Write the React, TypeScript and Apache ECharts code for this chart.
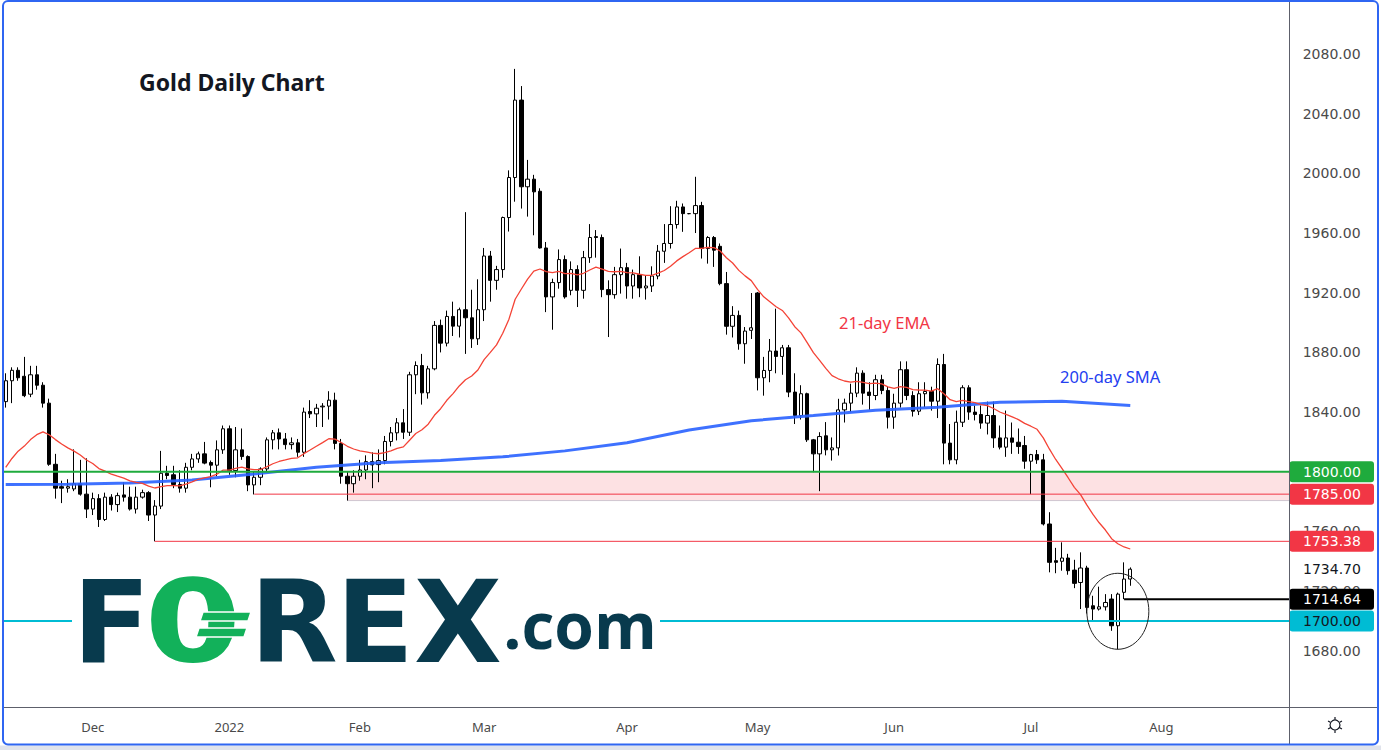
import React, { useEffect, useRef } from "react";
import * as echarts from "echarts";

const W = 1381;
const H = 750;

// Daily XAU/USD candles, [open, high, low, close]
const nov2021 = [
  [1847, 1866, 1843, 1861], [1861, 1870, 1846, 1868], [1868, 1870, 1861, 1863],
  [1864, 1877, 1850, 1851], [1852, 1871, 1850, 1865], [1865, 1871, 1855, 1858],
  [1858, 1860, 1843, 1846], [1846, 1849, 1804, 1805], [1805, 1812, 1782, 1789],
  [1790, 1794, 1779, 1789], [1789, 1795, 1786, 1790], [1788.5, 1815, 1787, 1792],
  [1792, 1808, 1784, 1785], [1785, 1809, 1769, 1775],
];
const dec2021 = [
  [1775, 1786, 1771, 1782], [1782, 1785, 1763, 1768], [1768, 1786, 1767, 1783],
  [1783, 1785, 1774, 1778], [1778, 1786, 1773, 1784], [1784.5, 1793, 1780, 1783],
  [1783, 1790, 1774, 1775], [1775, 1790, 1772, 1783], [1783, 1788, 1782, 1786],
  [1786, 1787, 1767, 1771], [1771, 1781, 1753.38, 1777], [1777, 1814, 1775, 1799],
  [1799, 1804, 1795, 1797.5], [1798, 1804, 1789, 1791.5], [1791.5, 1801, 1786, 1789],
  [1789, 1806, 1786, 1803], [1803, 1812, 1801, 1808.6], [1808.6, 1813.5, 1806, 1812],
  [1812, 1820, 1805, 1805.8], [1806.2, 1807.5, 1789.6, 1804.4], [1804.4, 1821, 1797, 1814.7],
  [1814.7, 1831, 1812, 1828.8],
];
const jan2022 = [
  [1828.8, 1831, 1798, 1800.8], [1800.8, 1830, 1796.3, 1814.7], [1814.7, 1829, 1808, 1810.2],
  [1810.2, 1811, 1787, 1791.2], [1791.2, 1800, 1784.8, 1796.3], [1796.3, 1803, 1791, 1801.9],
  [1801.9, 1823, 1800, 1821.4], [1821.4, 1828, 1815, 1826.1], [1826.1, 1829, 1815, 1822],
  [1822, 1826, 1815, 1818.2], [1818.2, 1823, 1815, 1819.4], [1819.4, 1822, 1810, 1813.1],
  [1813.1, 1843, 1810, 1840], [1840.4, 1848, 1836, 1838.8], [1838.8, 1845.5, 1830, 1842.6],
  [1843.5, 1846, 1830, 1844], [1844, 1854, 1835, 1848], [1848, 1853, 1815, 1819],
  [1819, 1822, 1792, 1797], [1797, 1800, 1780.7, 1792], [1792, 1801, 1786, 1797],
];
const feb2022 = [
  [1797, 1808, 1794, 1801.2], [1801.2, 1811, 1795, 1806.8], [1806.8, 1813, 1789, 1804.6],
  [1804.8, 1815, 1793, 1807.5], [1807.5, 1824, 1805, 1820.3], [1820.3, 1830, 1817, 1826.1],
  [1826.1, 1836, 1821, 1832.8], [1832.8, 1842, 1822, 1826.5], [1826.5, 1867, 1824, 1865],
  [1865, 1874, 1852, 1871.2], [1871.2, 1879, 1845, 1852.9], [1852.9, 1871, 1849, 1869],
  [1869, 1901, 1868, 1898.1], [1898.1, 1902, 1880, 1886.2], [1886.2, 1908, 1884, 1904.1],
  [1904.1, 1914, 1891, 1897.6], [1897.6, 1910, 1890, 1908.6], [1908.6, 1974, 1879, 1903.2],
  [1903.2, 1922, 1883, 1889.1], [1889.1, 1929, 1885, 1908.6],
];
const mar2022 = [
  [1908.6, 1950, 1901, 1944.6], [1944.6, 1948, 1914, 1928.3], [1928.3, 1938, 1922, 1935.5],
  [1935.5, 1971, 1930, 1970.4], [1970.4, 2002, 1961, 1997.2], [1997.2, 2070, 1981, 2049.1],
  [2049.1, 2058.5, 1976.4, 1991], [1991, 2009, 1971, 1996.1], [1996.1, 1999, 1958.5, 1987.6],
  [1988, 1990, 1949.6, 1950], [1950, 1954, 1907, 1917.2], [1917.2, 1929.4, 1895.2, 1926.8],
  [1926.8, 1949, 1922.7, 1942.2], [1942.2, 1945, 1916, 1917.2], [1921.6, 1941, 1918.3, 1935.5],
  [1935.5, 1938.4, 1910.4, 1921.6], [1921.6, 1948, 1916, 1943.5], [1943.5, 1966, 1940, 1957],
  [1957.6, 1962, 1943.5, 1957], [1957, 1959, 1917, 1922.1], [1922.1, 1928.3, 1890.3, 1918.7],
  [1918.7, 1937.3, 1916, 1932.1], [1932.1, 1949.6, 1919.4, 1936.8],
];
const apr2022 = [
  [1936.8, 1940, 1916, 1924.5], [1924.5, 1935.5, 1916, 1932.1], [1932.1, 1944.4, 1917, 1923.2],
  [1923.2, 1931.7, 1915.4, 1924.5], [1924.5, 1937.7, 1920.5, 1931.2], [1931.2, 1952, 1929, 1947.8],
  [1947.8, 1966, 1940, 1953], [1953, 1978, 1949.6, 1965.7], [1965.7, 1981.6, 1963, 1977.5],
  [1977.5, 1979.8, 1960.8, 1973], [1973, 1973.4, 1972.6, 1973], [1973, 1997.7, 1960, 1978.4],
  [1978.4, 1980.9, 1942.9, 1949.6], [1949.6, 1957.9, 1939.5, 1957], [1957, 1958, 1937.3, 1948.5],
  [1951.1, 1953, 1925, 1926.1], [1926.1, 1933.9, 1891.9, 1897.5], [1897.5, 1911, 1890, 1904.8],
  [1904.8, 1908, 1881.8, 1885.8], [1885.8, 1897, 1872.4, 1894.3], [1894.8, 1919.8, 1889, 1896.5],
];
const may2022 = [
  [1919.8, 1920.5, 1854.5, 1863], [1863, 1877, 1851, 1867.9], [1867.9, 1889, 1860, 1880.9],
  [1880.9, 1909.3, 1866, 1877.3], [1877.3, 1885, 1865, 1883.1], [1883.1, 1885, 1850, 1853.4],
  [1853.4, 1866, 1832, 1837.7], [1837.7, 1858, 1835, 1852.3], [1852.3, 1853, 1820, 1821.4],
  [1821.4, 1822, 1799.7, 1812], [1812, 1826.5, 1787, 1823.6], [1824.1, 1833.3, 1811, 1814.7],
  [1814.7, 1823, 1807.5, 1816], [1816, 1848.9, 1810.9, 1841.5], [1841.5, 1849, 1833, 1846],
  [1846, 1859, 1840, 1852.7], [1852.7, 1870, 1850, 1866.1], [1866.1, 1868, 1845, 1852.7],
  [1853.4, 1860, 1841.5, 1851.1], [1851.1, 1865, 1848, 1861.7], [1861.7, 1865, 1852, 1854.5],
  [1854.5, 1857, 1829, 1836.6],
];
const jun2022 = [
  [1836.6, 1852.3, 1828.8, 1846], [1846, 1874, 1843, 1868.4], [1868.4, 1874, 1848, 1851.1],
  [1851.1, 1854, 1837, 1840.6], [1840.6, 1860, 1838, 1852.3], [1852.3, 1860, 1843.3, 1853.8],
  [1853.8, 1857, 1841, 1847.3], [1847.3, 1876, 1836, 1871.9], [1871.9, 1879, 1805, 1819.2],
  [1819.2, 1832, 1805, 1808], [1808, 1841, 1805, 1833.2], [1833.2, 1858, 1830, 1856.3],
  [1856.3, 1858, 1834.8, 1840], [1840, 1844.4, 1834.4, 1838.4], [1838.4, 1844.4, 1828.8, 1832.6],
  [1832.6, 1847, 1825, 1837.7], [1837.7, 1847, 1816, 1822.7], [1822.7, 1831, 1815, 1816.5],
  [1816.5, 1841, 1810, 1822.7], [1822.7, 1833, 1812, 1819.8], [1819.8, 1829, 1812, 1816.9],
  [1817.6, 1824, 1802, 1807.1],
];
const jul2022 = [
  [1807.1, 1812, 1785, 1811.5], [1811.5, 1814.6, 1805.3, 1808], [1808, 1812, 1764, 1765],
  [1765, 1772.9, 1732.6, 1739.3], [1740.4, 1749, 1732, 1739.3], [1740, 1752.7, 1733.7, 1742.2],
  [1742.2, 1745, 1731, 1733.7], [1734.1, 1741, 1722, 1725.2], [1725.8, 1746, 1708, 1735.5],
  [1735.5, 1737, 1705, 1709.1], [1710.2, 1716.9, 1700, 1708], [1708, 1723, 1707, 1709.5],
  [1709.5, 1718, 1707, 1712.4], [1714.7, 1718, 1693.4, 1696.8], [1696.8, 1719, 1681, 1718],
  [1719.2, 1739.3, 1714.64, 1728.1], [1728.1, 1735.9, 1723.6, 1734.7],
];

// Trading calendar
const FIRST_DAY = "2021-11-11";
const AXIS_LAST_DAY = "2022-08-29";
const CLOSED_DAYS = ["2021-12-24"];
const MONTH_NAMES = ["Jan", "Feb", "Mar", "Apr", "May", "Jun", "Jul", "Aug", "Sep", "Oct", "Nov", "Dec"];

// 21-day EMA value at the first bar
const EMA_PERIOD = 21;
const EMA_FIRST = 1803;

// 200-day SMA
const sma200 = [
  ["2021-11-11", 1791.5], ["2021-11-25", 1791.6], ["2021-12-09", 1792.5], ["2021-12-23", 1794.5],
  ["2022-01-07", 1798.5], ["2022-01-21", 1803], ["2022-02-04", 1806], ["2022-02-18", 1807.5],
  ["2022-03-04", 1810], ["2022-03-18", 1814], ["2022-04-01", 1819.5], ["2022-04-15", 1828],
  ["2022-04-29", 1834.2], ["2022-05-13", 1837.7], ["2022-05-27", 1841.3], ["2022-06-10", 1843.3],
  ["2022-06-24", 1846.6], ["2022-07-08", 1847.3], ["2022-07-25", 1844.4],
];

// Price levels drawn on the chart
const GREEN_LEVEL = 1800;
const ZONE_LOW = 1780.7;
const ZONE_START = "2022-01-28";
const RED_LEVEL = 1785;
const RED_LEVEL_START = "2022-01-07";
const DEC_LOW = 1753.38;
const DEC_LOW_START = "2021-12-15";
const JUL_LOW = 1714.64;
const JUL_LOW_START = "2022-07-22";
const CYAN_LEVEL = 1700;
const CIRCLE_DATE = "2022-07-21";
const CIRCLE_VALUE = 1706.5;

const Y_MIN = 1640;
const Y_MAX = 2120;
const Y_STEP = 40;

const GRID = { left: 2.6, right: 92.3, top: -5.7, bottom: 39.5 };

function tradingDays(from: string, to: string, closed: string[]) {
  const out: string[] = [];
  const d = new Date(from + "T00:00:00Z");
  const end = new Date(to + "T00:00:00Z");
  while (d <= end) {
    const wd = d.getUTCDay();
    const s = d.toISOString().slice(0, 10);
    if (wd !== 0 && wd !== 6 && closed.indexOf(s) < 0) out.push(s);
    d.setUTCDate(d.getUTCDate() + 1);
  }
  return out;
}

function emaOf(values: number[], period: number, first: number) {
  const k = 2 / (period + 1);
  const out = [first];
  for (let i = 1; i < values.length; i++) out.push(out[i - 1] + k * (values[i] - out[i - 1]));
  return out.map((v) => Math.round(v * 100) / 100);
}

export default function App() {
  const ref = useRef<HTMLDivElement>(null);

  useEffect(() => {
    document.body.style.margin = "0";
    const el = ref.current;
    if (!el) return;
    const chart = echarts.init(el, undefined, { renderer: "svg", width: W, height: H });

    const candles = [].concat(nov2021, dec2021, jan2022, feb2022, mar2022, apr2022, may2022, jun2022, jul2022) as number[][];
    const dates = tradingDays(FIRST_DAY, AXIS_LAST_DAY, CLOSED_DAYS);
    const barDates = dates.slice(0, candles.length);
    const closes = candles.map((c) => c[3]);
    const ema = emaOf(closes, EMA_PERIOD, EMA_FIRST);
    const labelIdx = new Set<number>();
    for (let i = 1; i < dates.length; i++) {
      if (dates[i].slice(0, 7) !== dates[i - 1].slice(0, 7)) labelIdx.add(i);
    }

    chart.setOption({
      animation: false,
      backgroundColor: "#ffffff",
      grid: { ...GRID, containLabel: false, outerBoundsMode: "none" },
      xAxis: {
        type: "category",
        data: dates,
        boundaryGap: true,
        axisLine: { show: false },
        axisTick: { show: false },
        splitLine: { show: false },
        axisLabel: {
          interval: (i: number) => labelIdx.has(i),
          formatter: (v: string) => {
            const m = parseInt(v.slice(5, 7), 10) - 1;
            return m === 0 ? v.slice(0, 4) : MONTH_NAMES[m];
          },
          color: "#4a4a4a",
          fontFamily: "Noto Sans",
          fontSize: 13,
          margin: 10,
        },
      },
      yAxis: {
        type: "value",
        position: "right",
        min: Y_MIN,
        max: Y_MAX,
        interval: Y_STEP,
        axisLine: { show: false },
        axisTick: { show: false },
        splitLine: { show: false },
        axisLabel: {
          formatter: (v: number) => v.toFixed(2),
          color: "#4a4a4a",
          fontFamily: "DejaVu Sans",
          fontSize: 14,
          margin: 14,
          showMinLabel: false,
          showMaxLabel: false,
        },
      },
      series: [
        {
          type: "candlestick",
          data: candles.map((c) => [c[0], c[3], c[2], c[1]]),
          barWidth: 3.8,
          z: 2,
          itemStyle: {
            color: "#ffffff",
            color0: "#000000",
            borderColor: "#000000",
            borderColor0: "#000000",
            borderWidth: 1,
          },
        },
        {
          type: "line",
          data: sma200,
          symbol: "none",
          z: 3,
          lineStyle: { color: "#2962ff", width: 3, opacity: 0.9 },
        },
        {
          type: "line",
          data: barDates.map((d, i) => [d, ema[i]]),
          symbol: "none",
          z: 4,
          lineStyle: { color: "#f44336", width: 1.3 },
        },
      ],
    });

    const px = (date: string, v: number) =>
      chart.convertToPixel({ gridIndex: 0 }, [dates.indexOf(date), v]) as number[];
    const yOf = (v: number) => px(dates[0], v)[1];
    const xOf = (d: string) => px(d, GREEN_LEVEL)[0];
    const plotL = 4;
    const plotR = W - GRID.right;
    const axisX = Math.round(plotR) + 0.5;

    const hline = (x1: number, v: number, color: string, w: number, z = 5) => ({
      type: "line",
      z,
      silent: true,
      shape: { x1, y1: yOf(v), x2: axisX, y2: yOf(v) },
      style: { stroke: color, lineWidth: w },
    });
    const text = (t: string, x: number, y: number, o: any) => ({
      type: "text",
      x,
      y,
      z: o.z ?? 12,
      scaleX: o.scaleX ?? 1,
      silent: true,
      style: {
        text: t,
        fill: o.fill,
        fontFamily: o.family,
        fontSize: o.size,
        fontWeight: o.weight ?? "normal",
        align: o.align ?? "left",
        textAlign: o.align ?? "left",
        verticalAlign: "middle",
        textVerticalAlign: "middle",
      },
    });
    const tag = (v: number, bg: string, fg: string) => [
      {
        type: "rect",
        z: 14,
        silent: true,
        shape: { x: axisX, y: yOf(v) - 10.5, width: 1374 - axisX, height: 21, r: 3 },
        style: { fill: bg },
      },
      text(v.toFixed(2), 1303, yOf(v), { fill: fg, family: "DejaVu Sans", size: 14, z: 15 }),
    ];

    const xZone = xOf(ZONE_START);
    const y1800 = yOf(GREEN_LEVEL);
    const yZoneLow = yOf(ZONE_LOW);
    const cPos = px(CIRCLE_DATE, CIRCLE_VALUE);
    const lastClose = closes[closes.length - 1];

    const gearX = 1335;
    const gearY = 725;
    const gearTicks = [90, 270, 30, 150, 210, 330].map((a) => {
      const r = (a * Math.PI) / 180;
      return {
        type: "line",
        z: 20,
        silent: true,
        shape: {
          x1: gearX + Math.cos(r) * 5.5,
          y1: gearY - Math.sin(r) * 5.5,
          x2: gearX + Math.cos(r) * 8,
          y2: gearY - Math.sin(r) * 8,
        },
        style: { stroke: "#131722", lineWidth: 1.2 },
      };
    });

    const logoFill = "#083a4d";
    const logoGreen = "#12b15a";
    const logoY = 622;
    const logoFont = { family: "DejaVu Sans", size: 114, weight: "bold", align: "center", z: 21 };

    const graphic: any[] = [
      // highlighted zone
      {
        type: "rect",
        z: 1,
        silent: true,
        shape: { x: xZone, y: y1800, width: axisX - xZone, height: yZoneLow - y1800 },
        style: { fill: "rgba(242,54,69,0.15)" },
      },
      hline(xZone, ZONE_LOW, "#cfc6cf", 1, 1),
      hline(plotL, GREEN_LEVEL, "#1fab3d", 2),
      hline(xOf(RED_LEVEL_START), RED_LEVEL, "#f23645", 1),
      hline(xOf(DEC_LOW_START), DEC_LOW, "#f23645", 1),
      hline(xOf(JUL_LOW_START), JUL_LOW, "#000000", 2),
      hline(plotL, CYAN_LEVEL, "#00bcd4", 2),
      {
        type: "ellipse",
        z: 6,
        silent: true,
        shape: { cx: cPos[0], cy: cPos[1], rx: 31, ry: 38 },
        style: { fill: "none", stroke: "#222222", lineWidth: 1 },
      },
      // annotations
      text("Gold Daily Chart", 139, 82, { fill: "#131722", family: "Noto Sans", size: 23, weight: "bold" }),
      text("21-day EMA", 839, 322, { fill: "#f23645", family: "Noto Sans", size: 16.5 }),
      text("200-day SMA", 1060, 376, { fill: "#2440f0", family: "Noto Sans", size: 16.5 }),
      // logo
      {
        type: "rect",
        z: 20,
        silent: true,
        shape: { x: 72, y: 574, width: 588, height: 96 },
        style: { fill: "#ffffff" },
      },
      text("F", 111.5, logoY, { ...logoFont, fill: logoFill }),
      text("0", 193, logoY, { ...logoFont, fill: logoGreen, scaleX: 1.22 }),
      {
        type: "polygon",
        z: 22,
        silent: true,
        shape: { points: [[203, 612], [251, 612], [248, 621], [200, 621]] },
        style: { fill: logoGreen, stroke: "#ffffff", lineWidth: 1.5 },
      },
      {
        type: "polygon",
        z: 22,
        silent: true,
        shape: { points: [[199, 628], [247, 628], [244, 637], [196, 637]] },
        style: { fill: logoGreen, stroke: "#ffffff", lineWidth: 1.5 },
      },
      text("R", 294, logoY, { ...logoFont, fill: logoFill }),
      text("E", 375, logoY, { ...logoFont, fill: logoFill }),
      text("X", 458, logoY, { ...logoFont, fill: logoFill }),
      text(".com", 580, 624, { family: "Open Sans", size: 64, weight: "bold", align: "center", z: 21, fill: logoFill }),
      // last price
      text(lastClose.toFixed(2), 1303, yOf(lastClose), { fill: "#131722", family: "DejaVu Sans", size: 14, z: 13 }),
      ...tag(GREEN_LEVEL, "#1fab3d", "#ffffff"),
      ...tag(RED_LEVEL, "#f23645", "#ffffff"),
      ...tag(DEC_LOW, "#f23645", "#ffffff"),
      ...tag(JUL_LOW, "#000000", "#ffffff"),
      ...tag(CYAN_LEVEL, "#00bcd4", "#131722"),
      // pane separators
      {
        type: "line",
        z: 16,
        silent: true,
        shape: { x1: 3, y1: 707.5, x2: 1378, y2: 707.5 },
        style: { stroke: "#5d606b", lineWidth: 1 },
      },
      {
        type: "line",
        z: 16,
        silent: true,
        shape: { x1: axisX, y1: 1, x2: axisX, y2: 744 },
        style: { stroke: "#5d606b", lineWidth: 1 },
      },
      {
        type: "circle",
        z: 20,
        silent: true,
        shape: { cx: gearX, cy: gearY, r: 5 },
        style: { fill: "none", stroke: "#131722", lineWidth: 1.2 },
      },
      ...gearTicks,
      // outer frame
      {
        type: "rect",
        z: 30,
        silent: true,
        shape: { x: 0, y: 745.5, width: W, height: 5 },
        style: { fill: "#e0e3eb" },
      },
      {
        type: "rect",
        z: 31,
        silent: true,
        shape: { x: 3, y: 1, width: 1375, height: 743.5, r: 5 },
        style: { fill: "none", stroke: "#2f66f2", lineWidth: 2 },
      },
    ];

    chart.setOption({ graphic });

    return () => chart.dispose();
  }, []);

  return <div ref={ref} style={{ width: W, height: H, background: "#ffffff" }} />;
}
